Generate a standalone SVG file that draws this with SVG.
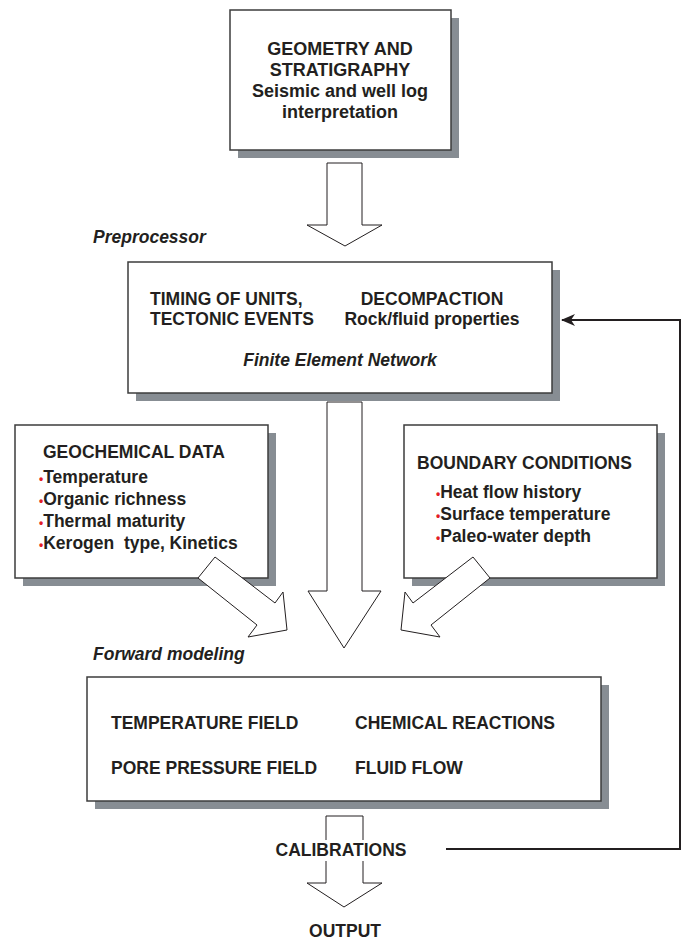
<svg xmlns="http://www.w3.org/2000/svg" width="682" height="941" viewBox="0 0 682 941">
<defs>
<style>
.shadow{fill:#878d93}
.box{fill:#ffffff;stroke:#3c3c3c;stroke-width:1.5}
.t{font-family:"Liberation Sans",Arial,sans-serif;font-weight:bold;font-size:17.5px;fill:#231f20}
.tb{font-family:"Liberation Sans",Arial,sans-serif;font-weight:bold;font-size:18px;fill:#231f20}
.ti{font-family:"Liberation Sans",Arial,sans-serif;font-weight:bold;font-style:italic;font-size:17.5px;fill:#231f20}
.b{fill:#e31e24;font-size:12px}
.arrow{fill:#ffffff;stroke:#231f20;stroke-width:1}
.link{fill:none;stroke:#231f20;stroke-width:2}
</style>
<marker id="ah" markerWidth="14" markerHeight="12" refX="13" refY="6" orient="auto" markerUnits="userSpaceOnUse">
<path d="M0,0 L14,6 L0,12 L4,6 Z" fill="#231f20"/>
</marker>
</defs>
<rect width="682" height="941" fill="#ffffff"/>

<g id="node-geometry">
<rect class="shadow" x="238" y="18" width="221" height="140"/>
<rect class="box" x="230" y="10" width="221" height="140"/>
<text class="tb" text-anchor="middle" x="340" y="55">GEOMETRY AND</text>
<text class="tb" text-anchor="middle" x="340" y="76">STRATIGRAPHY</text>
<text class="tb" text-anchor="middle" x="340" y="97">Seismic and well log</text>
<text class="tb" text-anchor="middle" x="340" y="118">interpretation</text>
</g>

<text id="label-preprocessor" class="ti" x="93" y="243">Preprocessor</text>

<g id="node-preprocessor">
<rect class="shadow" x="136" y="270" width="424" height="131"/>
<rect class="box" x="128" y="262" width="424" height="131"/>
<text class="t" x="150" y="305">TIMING OF UNITS,</text>
<text class="t" x="150" y="325">TECTONIC EVENTS</text>
<text class="t" text-anchor="middle" x="432" y="305">DECOMPACTION</text>
<text class="t" text-anchor="middle" x="432" y="325">Rock/fluid properties</text>
<text class="ti" text-anchor="middle" x="340" y="366">Finite Element Network</text>
</g>

<g id="node-geochemical">
<rect class="shadow" x="23" y="433" width="253" height="153"/>
<rect class="box" x="15" y="425" width="253" height="153"/>
<text class="t" x="43" y="458">GEOCHEMICAL DATA</text>
<text class="t" x="39" y="483"><tspan class="b">•</tspan>Temperature</text>
<text class="t" x="39" y="505"><tspan class="b">•</tspan>Organic richness</text>
<text class="t" x="39" y="527"><tspan class="b">•</tspan>Thermal maturity</text>
<text class="t" x="39" y="549"><tspan class="b">•</tspan>Kerogen&#160; type, Kinetics</text>
</g>

<g id="node-boundary">
<rect class="shadow" x="412" y="433" width="253" height="153"/>
<rect class="box" x="404" y="425" width="253" height="153"/>
<text class="t" x="417" y="469">BOUNDARY CONDITIONS</text>
<text class="t" x="436" y="498"><tspan class="b">•</tspan>Heat flow history</text>
<text class="t" x="436" y="520"><tspan class="b">•</tspan>Surface temperature</text>
<text class="t" x="436" y="542"><tspan class="b">•</tspan>Paleo-water depth</text>
</g>

<text id="label-forward" class="ti" x="93" y="660">Forward modeling</text>

<g id="node-forward">
<rect class="shadow" x="95" y="685" width="514" height="124"/>
<rect class="box" x="87" y="677" width="514" height="124"/>
<text class="t" x="111" y="729">TEMPERATURE FIELD</text>
<text class="t" x="111" y="774">PORE PRESSURE FIELD</text>
<text class="t" x="355" y="729">CHEMICAL REACTIONS</text>
<text class="t" x="355" y="774">FLUID FLOW</text>
</g>

<g id="connectors">
<polygon class="arrow" points="327,163 362,163 362,225 382,225 345,246 307,225 327,225"/>
<polygon class="arrow" points="327,402 362,402 362,591 381,591 344,648 308,591 327,591"/>
<polygon class="arrow" points="215,557 275,603 283,592 287,630 248,637 257,625 198,578"/>
<polygon class="arrow" points="473,557 413,603 405,592 401,630 440,637 431,625 490,578"/>
<polygon class="arrow" points="326,816 363,816 363,883 382,883 344,907 307,883 326,883"/>
<rect x="320" y="840" width="50" height="21" fill="#ffffff"/>
<polyline class="link" points="446,849 680,849 680,320 562,320" marker-end="url(#ah)"/>
</g>

<text id="node-calibrations" class="t" text-anchor="middle" x="341" y="856">CALIBRATIONS</text>
<text id="node-output" class="t" text-anchor="middle" x="345" y="937">OUTPUT</text>
</svg>
